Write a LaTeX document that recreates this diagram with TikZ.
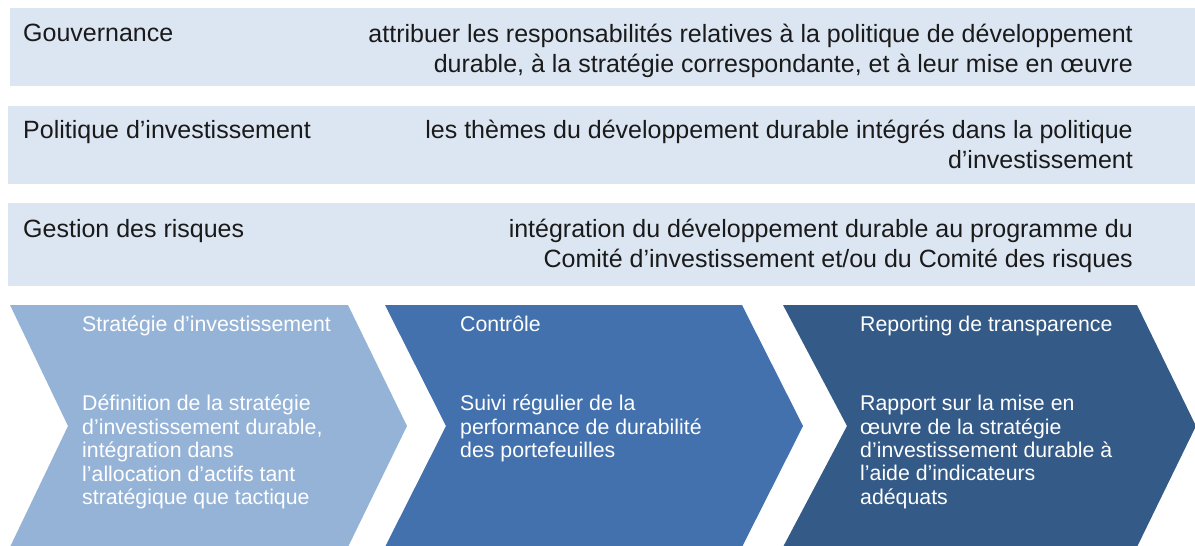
\documentclass[tikz,border=0pt]{standalone}
\usepackage{fontspec}
\setmainfont{Liberation Sans}
\definecolor{barfill}{HTML}{DCE6F2}
\definecolor{chevA}{HTML}{95B3D7}
\definecolor{chevB}{HTML}{4371AD}
\definecolor{chevC}{HTML}{345A87}
\definecolor{txt}{HTML}{1A1A1A}
\tikzset{
  bar/.style={fill=barfill, draw=none},
  bartext/.style={inner sep=0pt, text=txt, font=\fontsize{25}{30}\selectfont},
  barleft/.style={bartext, anchor=north west, align=left},
  barright/.style={bartext, anchor=north east, align=right},
  chev/.style={draw=none},
  chevtext/.style={inner sep=0pt, text=white, anchor=north west, align=left, font=\fontsize{21.3}{23.4}\selectfont},
}
\begin{document}
\begin{tikzpicture}[x=1pt,y=-1pt]
\useasboundingbox (0,0) rectangle (1195,546);
% bars
\fill[bar] (10,8) rectangle (1195,86);
\fill[bar] (8,106) rectangle (1195,184);
\fill[bar] (8,203) rectangle (1195,286);
\node[barleft] (t1) at (23,24) {Gouvernance};
\node[barright] (r1) at (1133,24) {attribuer les responsabilités relatives à la politique de développement\\durable, à la stratégie correspondante, et à leur mise en œuvre};
\node[barleft] (t2) at (23,120) {Politique d’investissement};
\node[barright] (r2) at (1133,120) {les thèmes du développement durable intégrés dans la politique\\d’investissement};
\node[barleft] (t3) at (23,219) {Gestion des risques};
\node[barright] (r3) at (1133,219) {intégration du développement durable au programme du\\Comité d’investissement et/ou du Comité des risques};
% chevrons
\fill[chevA] (10,305) -- (348,305) -- (407,426) -- (348,547) -- (10,547) -- (68,426) -- cycle;
\fill[chevB] (385,305) -- (742,305) -- (803,426) -- (742,547) -- (385,547) -- (446,426) -- cycle;
\fill[chevC] (783,305) -- (1137,305) -- (1196,426) -- (1137,547) -- (783,547) -- (847,426) -- cycle;
\node[chevtext] (h1) at (82,316) {Stratégie d’investissement};
\node[chevtext] (b1) at (82,395) {Définition de la stratégie\\d’investissement durable,\\intégration dans\\l’allocation d’actifs tant\\stratégique que tactique};
\node[chevtext] (h2) at (460,316) {Contrôle};
\node[chevtext] (b2) at (460,395) {Suivi régulier de la\\performance de durabilité\\des portefeuilles};
\node[chevtext] (h3) at (860,316) {Reporting de transparence};
\node[chevtext] (b3) at (860,395) {Rapport sur la mise en\\œuvre de la stratégie\\d’investissement durable à\\l’aide d’indicateurs\\adéquats};
\end{tikzpicture}
\end{document}
